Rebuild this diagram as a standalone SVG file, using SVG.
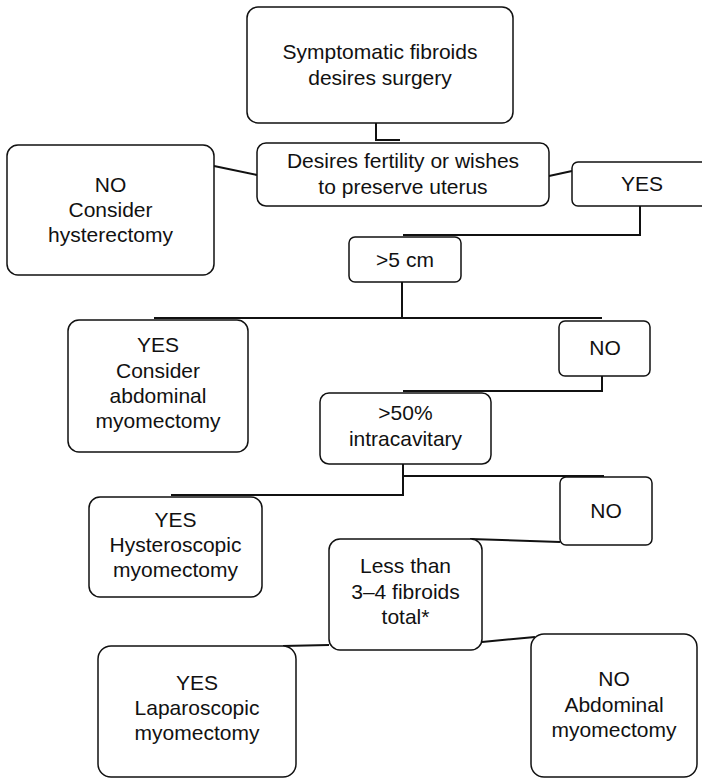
<svg xmlns="http://www.w3.org/2000/svg" width="702" height="778" viewBox="0 0 702 778">
<style>
.box{fill:#fff;stroke:#111;stroke-width:1.5}
.t{font-family:"Liberation Sans",Arial,sans-serif;font-size:21px;fill:#111;text-anchor:middle}
.c{fill:none;stroke:#111;stroke-width:2}
</style>
<rect width="702" height="778" fill="#fff"/>
<g id="connectors">
<polyline class="c" points="376,123 376,140 400,140"/>
<line class="c" x1="214" y1="166" x2="257" y2="175"/>
<line class="c" x1="549" y1="176" x2="572" y2="171"/>
<polyline class="c" points="640,206 640,235 403,235"/>
<line class="c" x1="402" y1="282" x2="402" y2="318"/>
<line class="c" x1="154" y1="318" x2="602" y2="318"/>
<polyline class="c" points="602,376 602,391 403,391"/>
<polyline class="c" points="171,495 403,495 403,464"/>
<line class="c" x1="403" y1="476" x2="604" y2="476"/>
<line class="c" x1="470" y1="539" x2="560" y2="542"/>
<line class="c" x1="283" y1="646" x2="329" y2="645"/>
<line class="c" x1="482" y1="642" x2="535" y2="637"/>
</g>
<g id="start">
<rect class="box" x="247" y="7" width="266" height="116" rx="11"/>
<text class="t" x="380" y="59">Symptomatic fibroids</text>
<text class="t" x="380" y="85">desires surgery</text>
</g>
<g id="fertility">
<rect class="box" x="257" y="143" width="292" height="63" rx="9"/>
<text class="t" x="403" y="168">Desires fertility or wishes</text>
<text class="t" x="403" y="194">to preserve uterus</text>
</g>
<g id="hysterectomy">
<rect class="box" x="7" y="145" width="207" height="130" rx="11"/>
<text class="t" x="110.5" y="192">NO</text>
<text class="t" x="110.5" y="217">Consider</text>
<text class="t" x="110.5" y="242">hysterectomy</text>
</g>
<g id="yes1">
<rect class="box" x="572" y="162" width="140" height="44" rx="6"/>
<text class="t" x="642" y="191">YES</text>
</g>
<g id="size">
<rect class="box" x="349" y="237" width="112" height="45" rx="6"/>
<text class="t" x="405" y="267">&gt;5 cm</text>
</g>
<g id="abdominal1">
<rect class="box" x="68" y="320" width="180" height="132" rx="11"/>
<text class="t" x="158" y="352">YES</text>
<text class="t" x="158" y="378">Consider</text>
<text class="t" x="158" y="403">abdominal</text>
<text class="t" x="158" y="428">myomectomy</text>
</g>
<g id="no1">
<rect class="box" x="559" y="321" width="91" height="55" rx="6"/>
<text class="t" x="605" y="355">NO</text>
</g>
<g id="intracavitary">
<rect class="box" x="320" y="393" width="171" height="71" rx="9"/>
<text class="t" x="405.5" y="420">&gt;50%</text>
<text class="t" x="405.5" y="446">intracavitary</text>
</g>
<g id="hysteroscopic">
<rect class="box" x="89" y="497" width="173" height="100" rx="11"/>
<text class="t" x="175.5" y="527">YES</text>
<text class="t" x="175.5" y="552">Hysteroscopic</text>
<text class="t" x="175.5" y="577">myomectomy</text>
</g>
<g id="no2">
<rect class="box" x="560" y="477" width="92" height="68" rx="6"/>
<text class="t" x="606" y="518">NO</text>
</g>
<g id="count">
<rect class="box" x="329" y="539" width="153" height="111" rx="11"/>
<text class="t" x="405.5" y="573">Less than</text>
<text class="t" x="405.5" y="599">3–4 fibroids</text>
<text class="t" x="405.5" y="624">total*</text>
</g>
<g id="laparoscopic">
<rect class="box" x="98" y="646" width="198" height="131" rx="13"/>
<text class="t" x="197" y="690">YES</text>
<text class="t" x="197" y="715">Laparoscopic</text>
<text class="t" x="197" y="740">myomectomy</text>
</g>
<g id="abdominal2">
<rect class="box" x="531" y="634" width="166" height="143" rx="13"/>
<text class="t" x="614" y="686">NO</text>
<text class="t" x="614" y="712">Abdominal</text>
<text class="t" x="614" y="737">myomectomy</text>
</g>
</svg>
